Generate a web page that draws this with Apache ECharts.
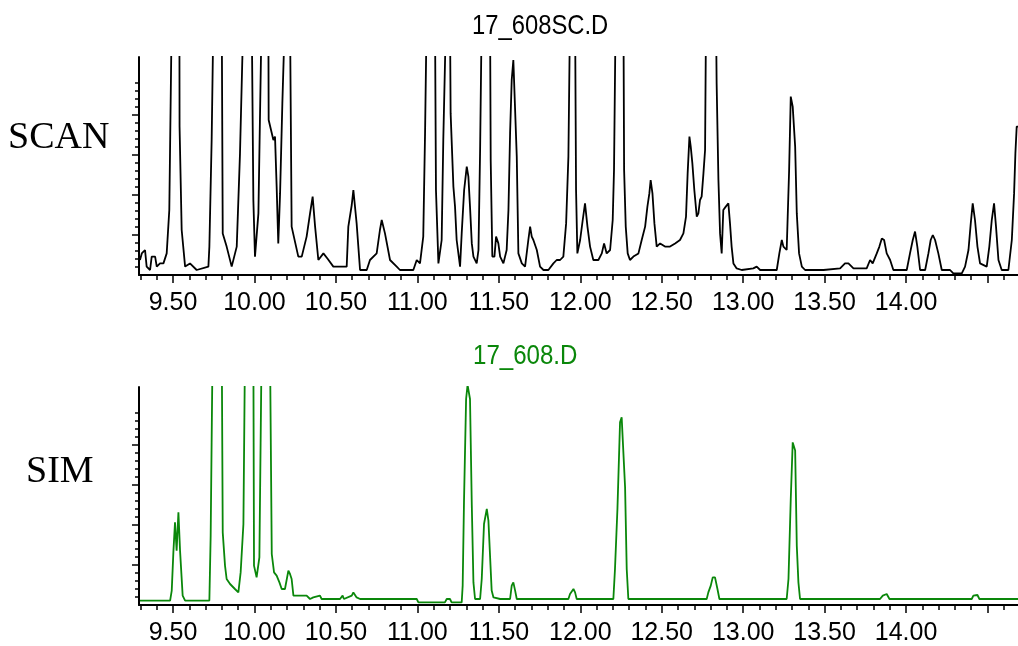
<!DOCTYPE html>
<html>
<head>
<meta charset="utf-8">
<script src="https://cdn.jsdelivr.net/npm/echarts@6/dist/echarts.min.js"></script>
<style>
html,body{margin:0;padding:0;background:#fff;}
#chart{width:1018px;height:646px;}
</style>
</head>
<body>
<div id="chart"></div>
<script>
// ---- Data (retention time in min, abundance in % of visible scale; >109 = off-scale) ----
const scanTitle = "17_608SC.D";
const simTitle = "17_608.D";
const panelLabels = ["SCAN", "SIM"];

const scanPoints = [
 [9.297,7.5],[9.308,10.8],[9.328,12.5],[9.338,4.2],[9.359,2.5],[9.369,9.2],[9.390,9.2],[9.400,4.2],[9.420,5.8],[9.441,5.8],[9.461,10.8],[9.477,32.5],[9.492,130],[9.539,130],[9.540,74.2],[9.553,22.5],[9.574,4.2],[9.604,5.8],[9.645,2.5],[9.717,4.2],[9.723,14.2],[9.737,67.5],[9.748,130],[9.799,130],[9.805,20.8],[9.829,14.2],[9.860,4.2],[9.891,14.2],[9.911,60.8],[9.932,130],[9.983,130],[9.993,37.5],[10.003,9.2],[10.024,30.8],[10.044,130],[10.085,130],[10.087,77.5],[10.116,67.5],[10.126,69.2],[10.136,44.2],[10.146,15.8],[10.157,40.8],[10.171,85.8],[10.180,86],[10.187,130],[10.218,130],[10.228,24.2],[10.269,9.2],[10.290,9.2],[10.320,19.2],[10.341,30.8],[10.357,39.2],[10.372,24.2],[10.392,7.5],[10.423,10.8],[10.450,8],[10.484,4.2],[10.566,4.2],[10.576,24.2],[10.597,35],[10.607,42.5],[10.627,25.8],[10.648,2.5],[10.689,2.5],[10.709,7.5],[10.750,10.8],[10.770,22.5],[10.781,27.5],[10.801,20.8],[10.832,7.5],[10.873,4.2],[10.893,2.5],[10.975,2.5],[10.996,7.5],[11.016,5.8],[11.036,19.2],[11.047,70.8],[11.057,130],[11.108,130],[11.114,42.5],[11.129,5.8],[11.149,17.5],[11.159,67.5],[11.176,130],[11.200,130],[11.204,80.8],[11.221,44.2],[11.231,34.2],[11.241,17.5],[11.262,4.2],
 [11.272,20.8],[11.287,42.5],[11.303,54.2],[11.313,49.2],[11.323,34.2],[11.334,15.8],[11.344,9.2],[11.364,5.8],[11.375,12.5],[11.385,62.5],[11.395,130],[11.446,130],[11.450,57.5],[11.460,9.2],[11.473,9.2],[11.483,19.2],[11.497,15.8],[11.508,9.2],[11.528,5.8],[11.548,12.5],[11.559,32.5],[11.569,70.8],[11.579,97.5],[11.589,107.5],[11.600,107.5],[11.610,59.2],[11.620,10.8],[11.641,5.8],[11.661,4.2],[11.681,17.5],[11.692,24.2],[11.702,19.2],[11.712,17.5],[11.733,12.5],[11.753,4.2],[11.774,2.5],[11.804,2.5],[11.835,5.8],[11.855,7.5],[11.876,7.5],[11.896,9.2],[11.913,25.8],[11.927,59.2],[11.937,130],[11.968,130],[11.974,42.5],[11.982,10.8],[11.999,17.5],[12.015,27.5],[12.029,35.8],[12.044,24.2],[12.060,14.2],[12.080,7.5],[12.111,7.5],[12.132,10.8],[12.146,15.8],[12.162,10.8],[12.183,12.5],[12.199,27.5],[12.207,52.5],[12.217,130],[12.265,130],[12.269,52.5],[12.279,24.2],[12.291,10.8],[12.305,7.5],[12.326,9.2],[12.357,10.8],[12.377,17.5],[12.398,24.2],[12.412,34.2],[12.424,40.8],[12.432,47.5],[12.443,40.8],[12.455,25.8],[12.469,14.2],[12.490,15.8],[12.520,14.2],[12.551,14.2],[12.582,15.8],[12.612,17.5],[12.633,20.8],[12.649,29.2],[12.659,50.8],[12.670,69.2],[12.678,64.2],[12.688,55.8],[12.700,42.5],[12.715,29.2],[12.725,30.8],[12.735,37.5],[12.745,39.2],[12.756,50.8],[12.766,62.5],[12.772,130],[12.833,130],[12.837,95.8],[12.848,47.5],[12.858,20.8],[12.868,10.8],[12.878,32.5],[12.893,34.2],[12.909,35.8],[12.919,25.8],[12.929,14.2],[12.940,5.8],[12.960,3.3],[12.991,2.5],[13.062,3.3],[13.083,4.2],[13.104,2.5],[13.206,2.5],[13.222,10.8],[13.237,17.5],[13.247,14.2],[13.267,12.5],[13.282,52.5],[13.292,89.2],[13.304,84.2],[13.319,64.2],[13.329,30.8],[13.343,10.8],[13.360,4.2],[13.380,2.5],[13.493,2.5],[13.595,3.3],[13.625,5.8],[13.646,5.8],[13.677,3.3],[13.758,3.3],[13.779,7.5],[13.795,5.8],[13.820,10.8],[13.836,14.2],[13.851,18.3],[13.865,17.5],[13.881,10.8],[13.902,7.5],[13.922,2.5],[14.004,2.5],[14.024,10.8],[14.041,17.5],[14.055,21.7],[14.069,14.2],[14.086,2.5],[14.117,2.5],[14.137,10.8],[14.151,17.5],[14.164,20],[14.178,17.5],[14.198,10.8],[14.219,2.5],[14.270,2.5],[14.290,0.8],[14.342,0.8],[14.362,4.2],[14.383,12.5],[14.397,25.8],[14.409,35.8],[14.423,27.5],[14.438,14.2],[14.454,5.8],[14.495,4.2],[14.511,14.2],[14.526,27.5],[14.540,35.8],[14.552,24.2],[14.567,7.5],[14.587,2.5],[14.628,2.5],[14.649,17.5],[14.663,40.8],[14.671,60.8],[14.679,74.2],[14.687,74.2]
];

const simPoints = [
 [9.297,2.2],[9.482,2.2],[9.492,7.2],[9.502,26.3],[9.512,41.3],[9.522,27.2],[9.533,46.3],[9.543,27.2],[9.553,26.3],[9.559,4.7],[9.574,2.2],[9.723,2.2],[9.731,34.7],[9.743,130],[9.799,130],[9.805,36.3],[9.819,19.7],[9.829,13],[9.850,10.5],[9.880,8],[9.901,6.3],[9.915,16.3],[9.932,40.5],[9.942,130],[9.993,130],[9.997,19.7],[10.013,13.8],[10.030,23.8],[10.044,130],[10.095,130],[10.106,25.5],[10.120,16.3],[10.136,14.7],[10.153,11.3],[10.167,8],[10.187,8],[10.208,17.2],[10.218,15.5],[10.228,13],[10.239,4.7],[10.320,4.7],[10.341,3],[10.361,3.8],[10.402,4.7],[10.412,3],[10.525,3],[10.541,4.7],[10.549,3],[10.597,4.7],[10.607,6.3],[10.627,3.8],[10.648,3],[10.996,3],[11.006,1.3],[11.169,1.3],[11.180,3],[11.200,3],[11.210,1.3],[11.272,1.3],[11.278,9.7],[11.286,51.3],[11.299,103],[11.308,110],[11.313,110],[11.323,103],[11.334,49.7],[11.344,11.3],[11.354,3],[11.385,3],[11.395,13],[11.409,40.5],[11.426,48],[11.436,42.2],[11.446,41.3],[11.456,7.2],[11.467,3.8],[11.508,3],[11.569,3],[11.579,9.7],[11.589,11.3],[11.600,7.2],[11.610,3],[11.927,3],[11.937,5.5],[11.958,8],[11.968,6.3],[11.978,3],[12.203,3],[12.213,18],[12.228,48],[12.244,91.3],[12.254,93.8],[12.265,93],[12.275,58.8],[12.285,18],[12.295,3],[12.674,3],[12.684,3.8],[12.694,3],[12.776,3],[12.786,6.3],[12.801,9.7],[12.813,13.8],[12.827,13.8],[12.842,8],[12.854,3],[13.267,3],[13.278,13],[13.292,53],[13.304,81.3],[13.312,82.2],[13.319,77.2],[13.329,29.7],[13.339,11.3],[13.349,3],[13.840,3],[13.857,4.7],[13.881,5.5],[13.898,3],[14.045,3],[14.055,3.8],[14.086,3],[14.403,3],[14.413,4.7],[14.438,5],[14.450,3],[14.687,3]
];

// ---- Axis ticks ----
const xRange = [9.291, 14.687];
const yRange = [0, 109];
const xMajorTicks = [9.5, 10.0, 10.5, 11.0, 11.5, 12.0, 12.5, 13.0, 13.5, 14.0, 14.5];
const xTickLabels = [9.5, 10.0, 10.5, 11.0, 11.5, 12.0, 12.5, 13.0, 13.5, 14.0];
const xMinorTicks = [9.3,9.4,9.6,9.7,9.8,9.9,10.1,10.2,10.3,10.4,10.6,10.7,10.8,10.9,11.1,11.2,11.3,11.4,11.6,11.7,11.8,11.9,12.1,12.2,12.3,12.4,12.6,12.7,12.8,12.9,13.1,13.2,13.3,13.4,13.6,13.7,13.8,13.9,14.1,14.2,14.3,14.4,14.6];
const yMajorTicks = [20, 40, 60, 80];
const yMinorTicks = [4,8,12,16,24,28,32,36,44,48,52,56,64,68,72,76,84,88,92,96];

const SANS = '"Liberation Sans", Arial, sans-serif';
const GREEN = '#0a870a';

const grids = [
  {left: 139, right: 0, top: 57, height: 218},
  {left: 139, right: 0, top: 387, height: 219}
];

function mainX(gi) {
  return {
    type: 'value', gridIndex: gi, min: xRange[0], max: xRange[1], position: 'bottom',
    axisLine: {show: true, onZero: false, lineStyle: {color: '#000', width: 2}},
    axisTick: {show: true, customValues: xMajorTicks, length: 8, lineStyle: {color: '#000', width: 1.5}},
    axisLabel: {show: true, customValues: xTickLabels, margin: 16, color: '#000', fontSize: 25, fontFamily: SANS,
      formatter: v => Number(v).toFixed(2)},
    splitLine: {show: false}
  };
}
function minorX(gi) {
  return {
    type: 'value', gridIndex: gi, min: xRange[0], max: xRange[1], position: 'bottom', offset: 0,
    axisLine: {show: false},
    axisTick: {show: true, customValues: xMinorTicks, length: 5, lineStyle: {color: '#000', width: 1.5}},
    axisLabel: {show: false},
    splitLine: {show: false}
  };
}
function mainY(gi) {
  return {
    type: 'value', gridIndex: gi, min: yRange[0], max: yRange[1], position: 'left',
    axisLine: {show: true, onZero: false, lineStyle: {color: '#000', width: 2}},
    axisTick: {show: true, customValues: yMajorTicks, length: 7, lineStyle: {color: '#000', width: 1.5}},
    axisLabel: {show: false},
    splitLine: {show: false}
  };
}
function minorY(gi) {
  return {
    type: 'value', gridIndex: gi, min: yRange[0], max: yRange[1], position: 'left', offset: 0,
    axisLine: {show: false},
    axisTick: {show: true, customValues: yMinorTicks, length: 4, lineStyle: {color: '#000', width: 1.5}},
    axisLabel: {show: false},
    splitLine: {show: false}
  };
}

const chart = echarts.init(document.getElementById('chart'), null, {renderer: 'canvas'});
chart.setOption({
  animation: false,
  backgroundColor: '#fff',
  graphic: [
    {type: 'text', x: 472, y: 12, scaleX: 0.85, style: {text: scanTitle, font: '28px "Liberation Sans", sans-serif', fill: '#000'}},
    {type: 'text', x: 473, y: 342, scaleX: 0.86, style: {text: simTitle, font: '28px "Liberation Sans", sans-serif', fill: GREEN}},
    {type: 'text', left: 8, top: 119, style: {text: panelLabels[0], font: '38px "Liberation Serif", serif', fill: '#000'}},
    {type: 'text', left: 26, top: 453, style: {text: panelLabels[1], font: '38px "Liberation Serif", serif', fill: '#000'}}
  ],
  grid: grids,
  xAxis: [mainX(0), minorX(0), mainX(1), minorX(1)],
  yAxis: [mainY(0), minorY(0), mainY(1), minorY(1)],
  series: [
    {type: 'line', xAxisIndex: 0, yAxisIndex: 0, data: scanPoints, showSymbol: false, symbol: 'none',
     clip: true, lineStyle: {color: '#000', width: 1.8}},
    {type: 'line', xAxisIndex: 2, yAxisIndex: 2, data: simPoints, showSymbol: false, symbol: 'none',
     clip: true, lineStyle: {color: GREEN, width: 1.8}}
  ]
});
</script>
</body>
</html>
